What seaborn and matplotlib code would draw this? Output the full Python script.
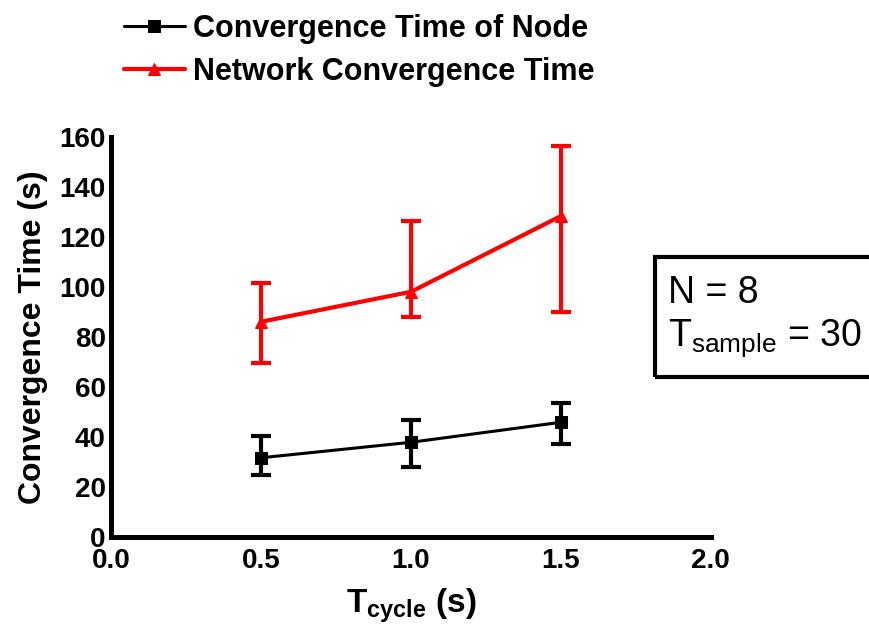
import matplotlib
matplotlib.use("Agg")
import matplotlib.pyplot as plt
import seaborn as sns
import numpy as np
import pandas as pd
from matplotlib.patches import Rectangle

# ---- data ----
t_cycle = [0.5, 1.0, 1.5]
node_time = [31.7, 37.9, 45.9]
node_low = [24.8, 27.9, 37.1]
node_high = [40.5, 46.8, 53.7]
net_time = [86.1, 98.1, 128.4]
net_low = [69.7, 88.1, 90.1]
net_high = [101.5, 126.4, 156.4]
x_ticks = [0.0, 0.5, 1.0, 1.5, 2.0]
y_ticks = [0, 20, 40, 60, 80, 100, 120, 140, 160]
label_node = "Convergence Time of Node"
label_net = "Network Convergence Time"

sns.set_style("white")
BOLD = ["Liberation Sans Narrow", "Liberation Sans", "DejaVu Sans"]
REG = ["Liberation Sans", "DejaVu Sans"]
plt.rcParams["font.family"] = BOLD
plt.rcParams["text.color"] = "black"
plt.rcParams["axes.labelcolor"] = "black"
plt.rcParams["xtick.color"] = "black"
plt.rcParams["ytick.color"] = "black"
plt.rcParams["mathtext.fontset"] = "custom"
plt.rcParams["mathtext.rm"] = "Liberation Sans"
plt.rcParams["mathtext.bf"] = "Liberation Sans:bold"

fig = plt.figure(figsize=(8.69, 6.27), dpi=100)
ax = fig.add_axes([0.128, 0.1435, 0.690, 0.638])

df_node = pd.DataFrame({"x": t_cycle, "y": node_time})
df_net = pd.DataFrame({"x": t_cycle, "y": net_time})

sns.lineplot(data=df_node, x="x", y="y", ax=ax, color="black", lw=2.2,
             marker="s", markersize=8, markeredgecolor="black", label=label_node)
sns.lineplot(data=df_net, x="x", y="y", ax=ax, color="#ff0000", lw=3.0,
             marker="^", markersize=9, markeredgecolor="#ff0000", label=label_net)

node_err = [np.array(node_time) - np.array(node_low), np.array(node_high) - np.array(node_time)]
net_err = [np.array(net_time) - np.array(net_low), np.array(net_high) - np.array(net_time)]
ax.errorbar(t_cycle, node_time, yerr=node_err, fmt="none", ecolor="black",
            elinewidth=3.0, capsize=7, capthick=3.0)
ax.errorbar(t_cycle, net_time, yerr=net_err, fmt="none", ecolor="#ff0000",
            elinewidth=3.0, capsize=7, capthick=3.0)

ax.set_xlim(0, 2.0)
ax.set_ylim(0, 160)
ax.set_xticks(x_ticks)
ax.set_xticklabels([f"{v:.1f}" for v in x_ticks])
ax.set_yticks(y_ticks)
ax.set_yticklabels([str(v) for v in y_ticks])

for s in ["top", "right"]:
    ax.spines[s].set_visible(False)
for s in ["left", "bottom"]:
    ax.spines[s].set_linewidth(3.6)
    ax.spines[s].set_color("black")

ax.tick_params(axis="both", direction="in", length=9, width=3.6, color="black",
               labelsize=20, labelcolor="black")
ax.tick_params(axis="x", pad=8)
ax.tick_params(axis="y", pad=4)
for lab in ax.get_xticklabels() + ax.get_yticklabels():
    lab.set_fontweight("bold")
    lab.set_family(BOLD)

ax.set_xlabel(r"T$_{\mathbf{cycle}}$ (s)", fontsize=24, fontweight="bold", labelpad=9,
              color="black")
ax.set_ylabel("Convergence Time (s)", fontsize=23, fontweight="bold", labelpad=8,
              color="black")

ax.get_legend().remove()
handles, labels = ax.get_legend_handles_labels()
leg = fig.legend(handles, labels, loc="upper left", bbox_to_anchor=(0.118, 1.012),
                 frameon=False, prop={"family": BOLD, "weight": "bold", "size": 22},
                 handlelength=2.0, handletextpad=0.25, labelspacing=0.42, borderpad=0.2)
for t in leg.get_texts():
    t.set_color("black")

# annotation box (clipped at right edge)
rect = Rectangle((655 / 869, 1 - 377 / 627), 0.4, 120 / 627, transform=fig.transFigure,
                 fill=False, edgecolor="black", lw=3.0, clip_on=False)
fig.patches.append(rect)
fig.text(668 / 869, 1 - 293 / 627, "N = 8", fontsize=27, family=REG,
         va="center", ha="left", color="black")
fig.text(668 / 869, 1 - 338 / 627, r"T$_{\mathrm{sample}}$ = 30", fontsize=27, family=REG,
         va="center", ha="left", color="black")

fig.savefig("out.png", dpi=100)
